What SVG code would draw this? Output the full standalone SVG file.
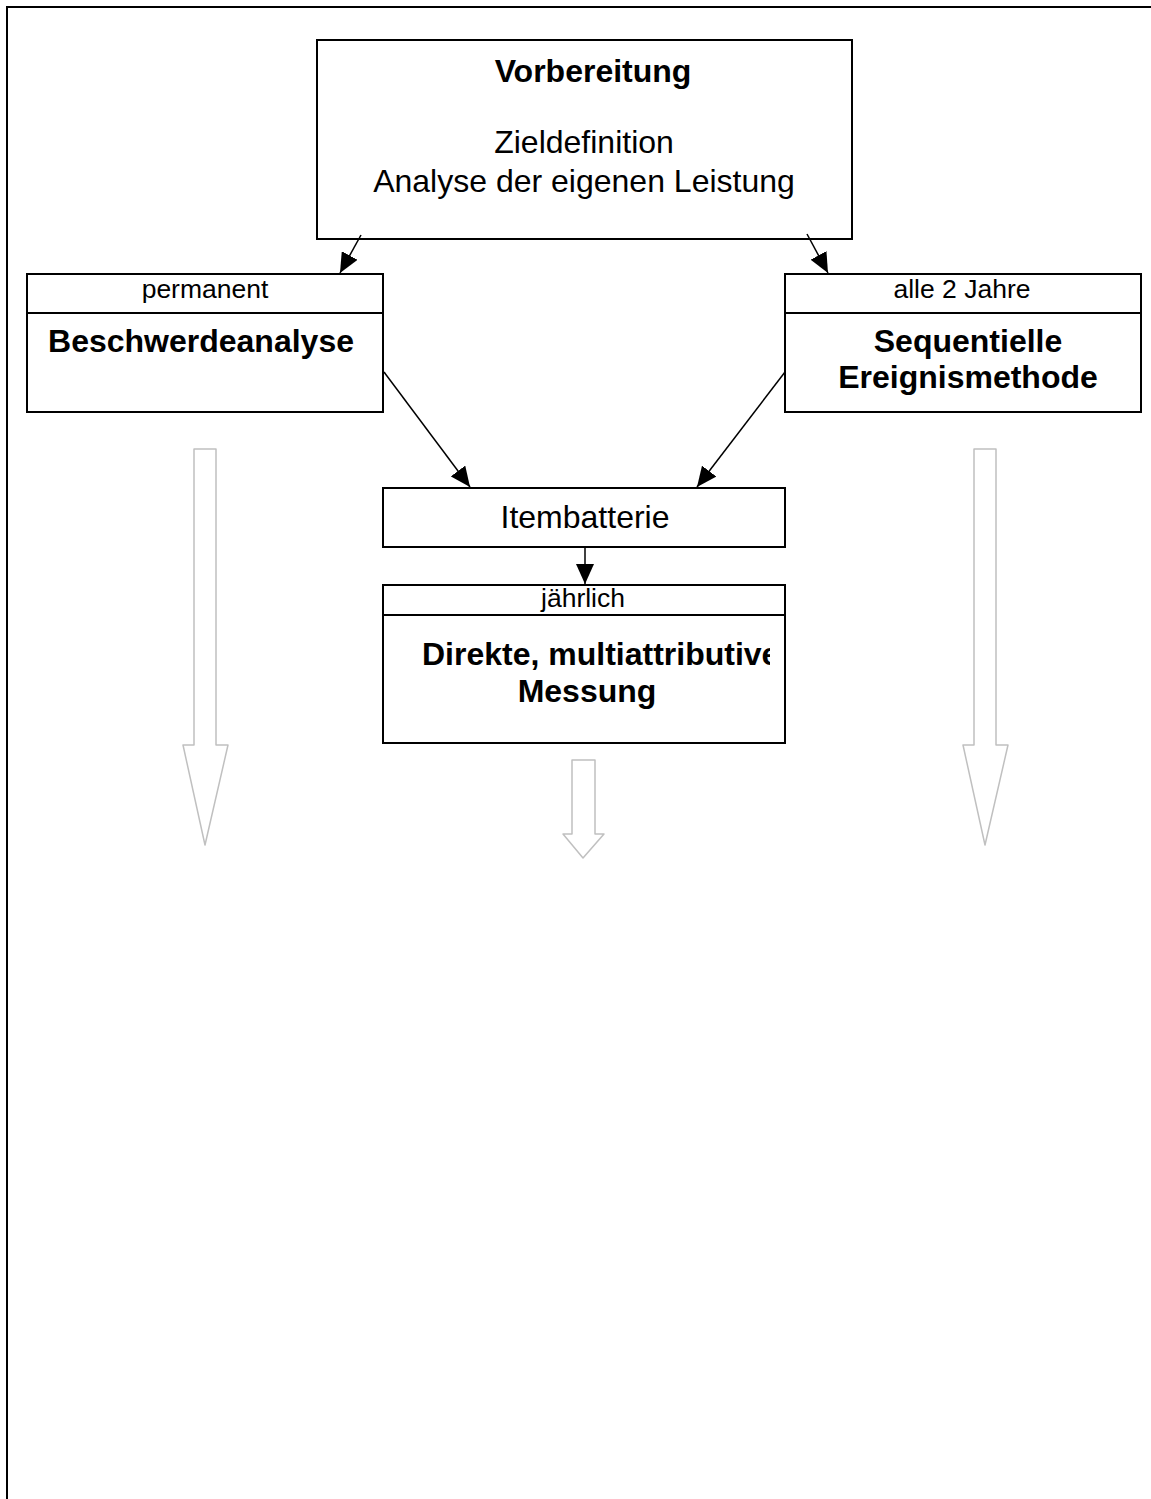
<svg xmlns="http://www.w3.org/2000/svg" width="1151" height="1499" viewBox="0 0 1151 1499">
<style>
.box{fill:#fff;stroke:#000;stroke-width:2}
.t{font-family:"Liberation Sans",Arial,sans-serif;fill:#000;text-anchor:middle}
.s{font-size:26.5px}
.n{font-size:32px}
.b{font-size:32px;font-weight:bold}
.con{stroke:#000;stroke-width:1.5;fill:none}
.hollow{fill:#fff;stroke:#c0c0c0;stroke-width:1.5;stroke-linejoin:round}
</style>
<defs>
<marker id="ah" viewBox="0 0 20 18" refX="20" refY="9" markerWidth="20" markerHeight="18" orient="auto" markerUnits="userSpaceOnUse">
<path d="M0,0 L20,9 L0,18 z" fill="#000"/>
</marker>
<clipPath id="clipD"><rect x="384" y="616" width="386" height="126"/></clipPath>
</defs>
<rect x="0" y="0" width="1151" height="1499" fill="#fff"/>
<rect id="frame" x="7" y="7" width="1160" height="1510" fill="none" stroke="#000" stroke-width="2"/>

<g id="vorbereitung">
<rect class="box" x="317" y="40" width="535" height="199"/>
<text class="t b" x="593" y="82">Vorbereitung</text>
<text class="t n" x="584" y="153">Zieldefinition</text>
<text class="t n" x="584" y="192">Analyse der eigenen Leistung</text>
</g>

<g id="beschwerdeanalyse">
<rect class="box" x="27" y="274" width="356" height="138"/>
<line x1="27" y1="313" x2="383" y2="313" stroke="#000" stroke-width="2"/>
<text class="t s" x="205" y="298">permanent</text>
<text class="t b" x="201" y="352">Beschwerdeanalyse</text>
</g>

<g id="sequentielle">
<rect class="box" x="785" y="274" width="356" height="138"/>
<line x1="785" y1="313" x2="1141" y2="313" stroke="#000" stroke-width="2"/>
<text class="t s" x="962" y="298">alle 2 Jahre</text>
<text class="t b" x="968" y="352">Sequentielle</text>
<text class="t b" x="968" y="388">Ereignismethode</text>
</g>

<g id="itembatterie">
<rect class="box" x="383" y="488" width="402" height="59"/>
<text class="t n" x="585" y="528">Itembatterie</text>
</g>

<g id="messung">
<rect class="box" x="383" y="585" width="402" height="158"/>
<line x1="383" y1="615" x2="785" y2="615" stroke="#000" stroke-width="2"/>
<text class="t s" x="583" y="607">jährlich</text>
<text class="t b" x="422" y="665" style="text-anchor:start" clip-path="url(#clipD)">Direkte, multiattributive</text>
<text class="t b" x="587" y="702">Messung</text>
</g>

<g id="connectors">
<line class="con" x1="361" y1="235" x2="340" y2="273" marker-end="url(#ah)"/>
<line class="con" x1="807" y1="234" x2="828" y2="273" marker-end="url(#ah)"/>
<line class="con" x1="384" y1="372" x2="470" y2="487" marker-end="url(#ah)"/>
<line class="con" x1="785" y1="372" x2="697" y2="487" marker-end="url(#ah)"/>
<line class="con" x1="585" y1="547" x2="585" y2="584" marker-end="url(#ah)"/>
</g>

<g id="hollow-arrows">
<path class="hollow" d="M194,449 L216,449 L216,745 L228,745 L205,845 L183,745 L194,745 Z"/>
<path class="hollow" d="M974,449 L996,449 L996,745 L1008,745 L985,845 L963,745 L974,745 Z"/>
<path class="hollow" d="M572,760 L595,760 L595,834 L604,834 L583,858 L563,834 L572,834 Z"/>
</g>
</svg>
